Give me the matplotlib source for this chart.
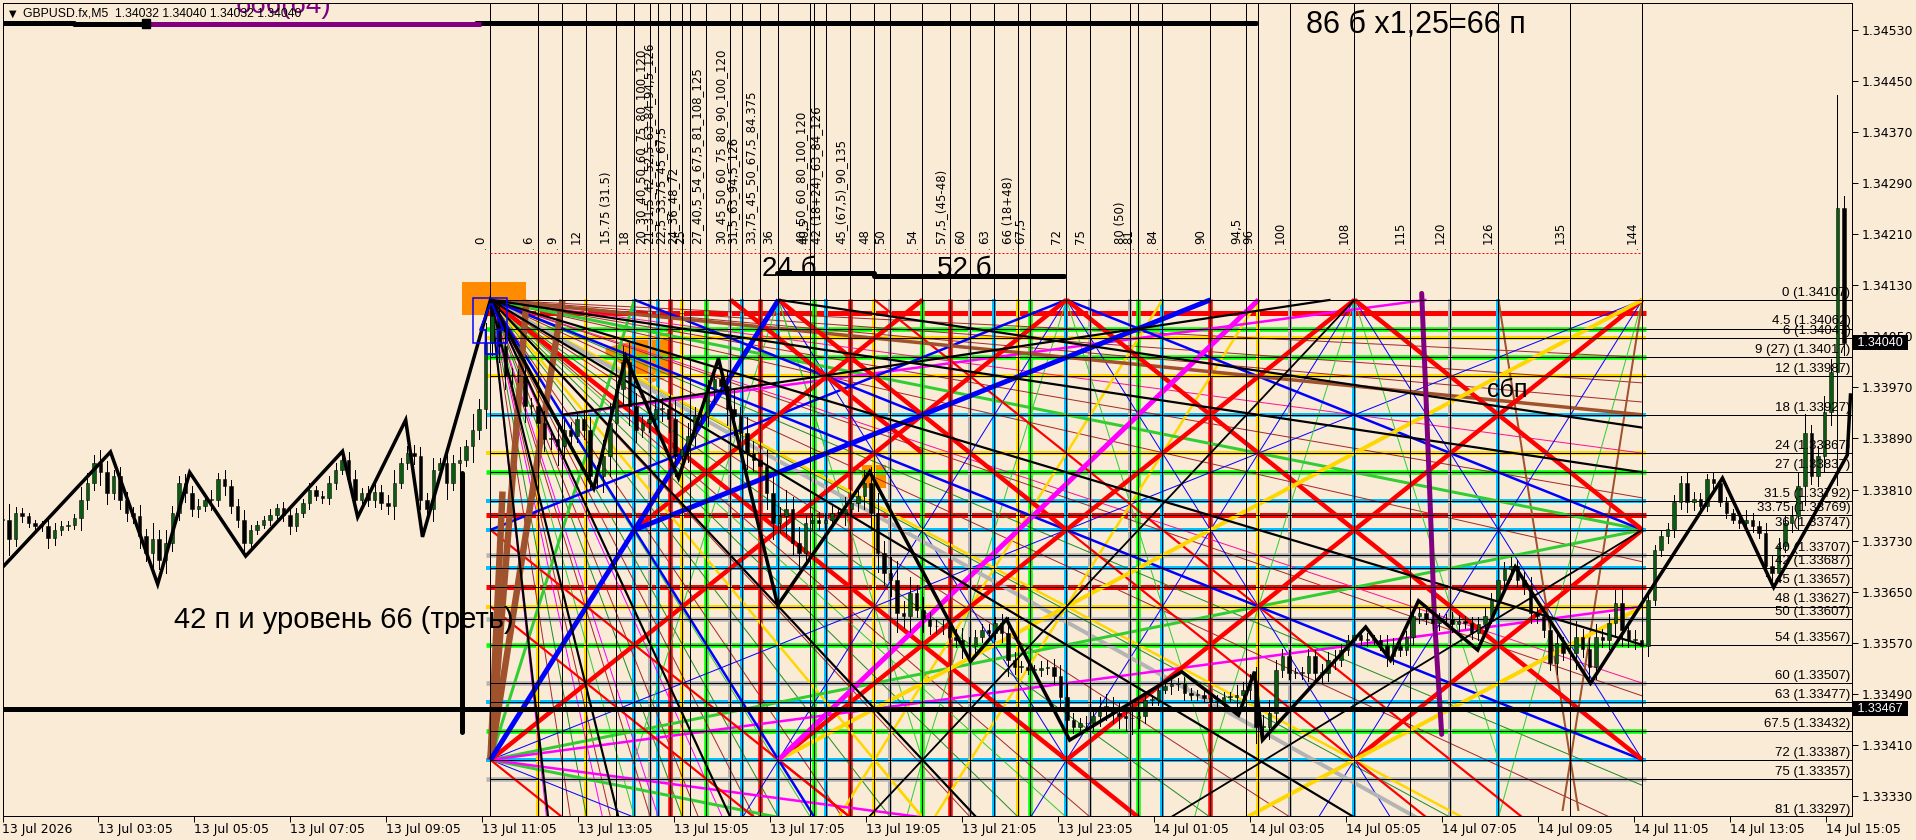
import matplotlib
matplotlib.use("Agg")
import matplotlib.pyplot as plt
from matplotlib.patches import Rectangle, Polygon

W, H = 1916, 840
BG = "#FAEBD7"
PT = 72 / 100.0  # points per pixel at dpi=100

# ---------- scales: x in Gann units, y in price points above 1.33000
TIME_LABELS = ["13 Jul 2026", "13 Jul 03:05", "13 Jul 05:05", "13 Jul 07:05", "13 Jul 09:05", "13 Jul 11:05",
               "13 Jul 13:05", "13 Jul 15:05", "13 Jul 17:05", "13 Jul 19:05", "13 Jul 21:05", "13 Jul 23:05",
               "14 Jul 01:05", "14 Jul 03:05", "14 Jul 05:05", "14 Jul 07:05", "14 Jul 09:05", "14 Jul 11:05",
               "14 Jul 13:05", "14 Jul 15:05"]
TIME_TICKS = [-61 + 12 * k for k in range(20)]
PRICE_TICKS = [1530, 1450, 1370, 1290, 1210, 1130, 1050, 970, 890, 810, 730, 650, 570, 490, 410, 330]

VERT_VALUES = [0, 6, 9, 12, 15.75, 18, 20, 21, 22.5, 24, 25, 27, 30, 31.5, 33.75, 36, 40, 40.5, 42, 45, 48, 50, 54,
               57.5, 60, 63, 66, 67.5, 72, 75, 80, 81, 84, 90, 94.5, 96, 100, 108, 115, 120, 126, 135, 144]
VERT_LABELS = ["0", "6", "9", "12", "15.75 (31.5)", "18", "20_30_40_50_60_75_80_100_120", "21_31,5_42_52,5_63_84_94,5_126",
               "22,5_33,75_45_67,5", "24_36_48_72", "25", "27_40,5_54_67,5_81_108_125", "30_45_50_60_75_80_90_100_120",
               "31,5_63_94,5_126", "33,75_45_50_67,5_84.375", "36", "40_50_60_80_100_120", "40,5", "42 (18+24)_63_84_126",
               "45_(67,5)_90_135", "48", "50", "54", "57,5_(45-48)", "60", "63", "66 (18+48)", "67,5", "72", "75",
               "80 (50)", "81", "84", "90", "94,5", "96", "100", "108", "115", "120", "126", "135", "144"]

LEVEL_NAMES = ["0", "4.5", "6", "9 (27)", "12", "18", "24", "27", "31.5", "33.75", "36", "40", "42", "45", "48", "50",
               "54", "60", "63", "67.5", "72", "75", "81"]
LEVEL_VALUES = [0, 4.5, 6, 9, 12, 18, 24, 27, 31.5, 33.75, 36, 40, 42, 45, 48, 50, 54, 60, 63, 67.5, 72, 75, 81]
LEVEL_PRICES = ["1.34107", "1.34062", "1.34047", "1.34017", "1.33987", "1.33927", "1.33867", "1.33837", "1.33792",
                "1.33769", "1.33747", "1.33707", "1.33687", "1.33657", "1.33627", "1.33607", "1.33567", "1.33507",
                "1.33477", "1.33432", "1.33387", "1.33357", "1.33297"]

# coloured grid
H_RED = [2, 33.75, 45]
H_LIME = [4.5, 9, 27, 54, 67.5]
H_GOLD = [6, 12, 24, 48]
H_SKY = [18, 31.5, 36, 42, 63, 72]
H_GRAY = [40, 50, 60, 75]
V_RED = [22.5, 33.75, 45, 57.5, 90]
V_LIME = [27, 40.5, 54, 67.5, 81]
V_GOLD = [6, 12, 24, 48, 66, 96]
V_SKY = [18, 21, 31.5, 36, 42, 63, 72, 84, 108, 126]
V_GRAY = [20, 30, 50, 60, 75, 80, 100, 120]

# diagonals as (u1, level1, u2, level2)
RED_THICK = [(0, 72, 72, 0), (36, 72, 108, 0), (72, 72, 144, 0), (108, 72, 144, 36), (18, 36, 54, 0),
             (0, 0, 90, 90), (36, 0, 72, 36), (72, 0, 144, 72), (108, 0, 144, 36), (30, 0, 54, 24)]
RED_MED = [(0, 36, 45, 81), (0, 48, 33, 81), (72, 36, 117, 81), (48, 0, 129, 81), (36, 72, 45, 81), (0, 72, 9, 81)]
BLUE_THICK = [(0, 72, 36, 0), (18, 36, 90, 0)]
BLUE_MED = [(0, 36, 72, 0), (18, 0, 54, 18), (0, 0, 144, 72), (72, 0, 144, 36), (0, 0, 40.5, 81)]
BLUE_THIN = [(72, 0, 36, 72), (72, 0, 112.5, 81), (108, 0, 72, 72), (108, 0, 144, 72), (144, 0, 108, 72),
             (36, 0, 72, 72), (0, 72, 144, 0), (0, 72, 18, 81), (72, 72, 67.5, 81), (108, 72, 103.5, 81), (36, 72, 31.5, 81)]
GOLD_THICK = [(36, 72, 144, 0), (72, 96, 144, 48)]
GOLD_MED = [(0, 0, 121.5, 81), (96, 0, 55.5, 81), (0, 0, 54, 81), (48, 72, 84, 0), (48, 72, 43.5, 81), (48, 72, 54, 81)]
MAGENTA_THICK = [(36, 72, 96, 0)]
MAGENTA_MED = [(0, 72, 144, 48), (0, 72, 54, 81), (9, 18, 117, 0)]
LIME_MED = [(0, 0, 144, 36), (0, 72, 144, 36), (0, 72, 36, 81), (0, 72, 18, 0)]
GRAY_THICK = [(0, 0, 120, 84)]
BLACK_MED = [(0, 0, 144, 27), (36, 0, 144, 20), (9, 18, 105, 0), (0, 0, 144, 54), (0, 0, 108, 81), (0, 0, 60.75, 81),
             (0, 0, 30, 81), (0, 0, 16, 81), (0, 0, 7.2, 81)]
BLACK_LIGHT = [(47.25, 81, 108, 0), (85, 81, 144, 36)]
BROWN_STEEP = [(0, 72, 4.5, 0), (0, 72, 9, 0), (0, 72, 1.5, 30)]
BROWN_SHALLOW = [(0, 0, 144, 18)]
BROWN_MED = [(126, 0, 136, 80), (144, 0, 134, 80)]
LIME_THIN = [(72, 0, 54, 72), (72, 0, 90, 72), (108, 0, 90, 72), (108, 0, 126, 72), (144, 0, 126, 81), (36, 0, 54, 72),
             (36, 0, 18, 72), (54, 72, 52, 81), (90, 72, 88, 81), (36, 0, 42, 24)]
PURPLE_PATH = [(116.4, -1), (116.9, 14), (117.4, 30), (118, 50), (118.9, 68)]

# thin fans from the top-left corner of the square: end point on level 81
FAN_DARKRED = [10, 15, 20, 26, 33, 44, 60, 75, 100, 140]
FAN_DARKGREEN = [12, 24, 36, 50, 66, 90, 120]
FAN_LIME = [18, 40, 72]
FAN_MAGENTA = [7, 14, 21, 29]
# end point on column 144
FAN2_DARKRED = [9, 13, 16, 31, 41, 62]
FAN2_PINK = [24, 60]
FAN2_DARKGREEN = [76, 36]

# candle closes, points above 1.33000, left to right
CLOSES = [
 763, 732, 773, 768, 758, 753, 753, 734, 747, 753, 755, 766, 794, 821, 852, 837, 805, 831, 794, 773, 768, 737, 711, 732,
 700, 726, 773, 821, 805, 779, 784, 794, 794, 826, 815, 784, 763, 726, 747, 755, 763, 771, 781, 771, 753, 773, 789, 810,
 800, 797, 821, 841, 857, 826, 794, 805, 794, 807, 789, 784, 821, 852, 868, 862, 794, 779, 841, 852, 821, 852, 857, 878,
 904, 936, 1040,
 1082, 1035, 988, 988, 988, 941, 941, 915, 889, 889, 878, 904, 894, 920, 904, 831, 831, 862, 915, 967, 1009, 941, 904,
 915, 920, 936, 936, 920, 862, 873, 894, 925, 925, 967, 983, 972, 936, 925, 899, 868, 857, 847, 805, 758, 768, 779, 727,
 711, 758, 763, 758, 763, 774, 774, 779, 789, 800, 821, 774, 711, 679,
 669, 617, 612, 648, 622, 607, 596, 596, 596, 580, 575, 565, 565, 580, 591, 586, 601, 586, 544, 533, 533, 528, 528, 531,
 533, 518, 486, 450, 439, 444, 444, 455, 470, 470, 460, 455, 452, 452, 455, 481, 481, 497, 502, 505, 507, 491, 489, 489,
 484, 478, 478, 486, 486, 489, 497, 507, 439, 439, 460,
 528, 549, 523, 523, 523, 549, 523, 523, 544, 544, 559, 575, 583, 575, 575, 575, 567, 549, 565, 559, 580, 612, 617, 607,
 601, 607, 607, 599, 604, 601, 586, 599, 612, 638, 669, 685,
 690, 669, 659, 617, 612, 591, 539, 570, 554, 554, 580, 560, 533, 580, 575, 601, 633, 591, 575, 575, 565, 638, 716, 737,
 748, 790, 821, 790, 795, 784, 826, 821, 790, 774, 763, 758, 763, 753, 742, 690, 679, 722, 758, 769, 816, 899, 831, 863,
 931, 994, 1250, 1040]
WICKS = [
 35, 25, 10, 8, 6, 5, 8, 15, 10, 8, 6, 6, 20, 15, 12, 20, 18, 10, 15, 12, 10, 18, 12, 25,
 15, 20, 12, 10, 14, 10, 12, 8, 16, 10, 14, 10, 12, 15, 8, 6, 5, 8, 6, 10, 12, 8, 6, 10,
 6, 8, 10, 10, 6, 12, 14, 8, 10, 12, 10, 12, 20, 8, 10, 12, 14, 10, 18, 8, 25, 12, 20, 10,
 25, 15, 30,
 20, 25, 20, 12, 10, 25, 12, 15, 18, 15, 30, 15, 12, 10, 15, 20, 18, 25, 30, 20, 25, 30, 20,
 12, 15, 12, 18, 20, 30, 15, 20, 15, 10, 15, 20, 10, 25, 30, 15, 25, 18, 12, 25, 25, 15, 30, 20,
 25, 12, 10, 12, 10, 10, 8, 20, 8, 12, 20, 25, 30, 18,
 25, 30, 18, 25, 12, 20, 12, 10, 12, 8, 12, 18, 15, 10, 8, 8, 10, 15, 25, 12, 8, 6, 8, 10,
 10, 12, 18, 20, 10, 8, 12, 12, 15, 20, 15, 18, 20, 25, 15, 10, 8, 8, 6, 12, 8, 10, 8, 8,
 6, 8, 10, 8, 8, 15, 12, 15, 25, 18, 20,
 15, 12, 10, 8, 10, 12, 10, 14, 12, 15, 10, 8, 10, 8, 10, 8, 8, 15, 12, 10, 8, 12, 10, 8,
 10, 10, 8, 12, 10, 8, 10, 12, 15, 10, 15, 12,
 15, 10, 12, 15, 10, 12, 12, 18, 10, 15, 25, 12, 18, 20, 12, 15, 20, 25, 12, 15, 10, 15, 8, 10,
 10, 12, 10, 15, 12, 10, 8, 12, 6, 8, 6, 8, 15, 10, 8, 15, 18, 12, 10, 15, 20, 30, 12, 15,
 25, 20, 177, 20]

# zigzag through swing points: (u, price points)
ZIGZAG_U = [-61.1, -47.5, -41.6, -37.6, -30.6, -18.5, -16.6, -10.6, -8.5, -4.3, 0, 12.9, 16.9, 23.5, 28.5, 35.9, 47.4, 60,
            64.5, 72.4, 86.4, 93.5, 95.5, 96.5, 109.4, 112.5, 116, 123.4, 128.1, 137.5, 154, 160.4, 169.6, 170]
ZIGZAG_P = [687, 869, 662, 837, 706, 870, 767, 919, 736, 919, 1107, 812, 1018, 828, 1015, 629, 838, 541,
            607, 418, 525, 457, 525, 418, 595, 543, 636, 559, 689, 507, 828, 657, 864, 958]

# fixed decorations
MAIN_LEVEL = 467
LAST_PRICE = 1040
RED_DOTTED = 1181
TOP_BAR_BLACK = [(-61.2, 1540, -52, 1540), (-52, 1538, -42.7, 1538), (-1.8, 1540, 95.7, 1540)]
TOP_BAR_PURPLE = [(-42.7, 1538, -1.2, 1538)]
BAR_24 = [(35.8, 1149, 47.9, 1149), (47.9, 1145, 71.7, 1145)]
STICK = (-3.5, 836, 431)
ORANGE_RECTS = [(-3.56, 1083, 7.96, 52), (46.4, 813, 3, 36)]
BLUE_RECT = (-2.2, 1040, 4.3, 70)
ORANGE_WEDGE = [(14.4, 7.5), (22.5, 5), (22.5, 12), (20, 13), (14.4, 8.5)]
BLUE_ARROW_U = [-0.05, -1.3, -0.6, -0.6, 0.9, 0.9, 1.6, 0.2]
BLUE_ARROW_P = [1100, 1060, 1060, 1022, 1022, 1060, 1060, 1100]

ANNOTATIONS = [(33.9, 1145, "24 б", 20, "black"), (55.8, 1145, "52 б", 20, "black"),
               (102, 1524, "86 б х1,25=66 п", 22, "black"), (-39.5, 593, "42 п и уровень 66 (треть)", 21, "black"),
               (124.6, 955, "сбп", 18, "black"), (-31.8, 1556, "666(64)", 20, "purple")]

RED, LIME, GOLD, SKY, GRAY = "#FF0000", "#00FF00", "#FFD700", "#00BFFF", "#B4B4B4"


def lev(level):
    return 1107 - 10.0 * level


fig = plt.figure(figsize=(W / 100, H / 100), dpi=100, facecolor=BG)
ax = fig.add_axes([2.5 / W, 1 - 816 / H, (1852 - 2.5) / W, (816 - 3) / H], facecolor=BG)
ax.set_xlim(-61.0, 170.19)
ax.set_ylim(299.2, 1571.5)
plt.rcParams["font.family"] = ["Liberation Sans", "DejaVu Sans"]

U_END = 144


def segs(items, color, px, z):
    for u1, l1, u2, l2 in items:
        ax.plot([u1, u2], [lev(l1), lev(l2)], color=color, lw=px * PT, zorder=z, solid_capstyle="butt")


# orange blocks
for x0, y0, w, h in ORANGE_RECTS:
    ax.add_patch(Rectangle((x0, y0), w, h, color="#FF8C00", lw=0, zorder=1))
ax.add_patch(Polygon([(u, lev(l)) for u, l in ORANGE_WEDGE], color="#FF8C00", lw=0, zorder=1))

# coloured grid
for vals, col, px in [(H_RED, RED, 5), (H_LIME, LIME, 4.5), (H_GOLD, GOLD, 4), (H_SKY, SKY, 4), (H_GRAY, GRAY, 4.5)]:
    for v in vals:
        ax.plot([-0.5, U_END + 0.5], [lev(v), lev(v)], color=col, lw=px * PT, zorder=2, solid_capstyle="butt")
for vals, col, px in [(V_RED, RED, 4.5), (V_LIME, LIME, 4.5), (V_GOLD, GOLD, 4), (V_SKY, SKY, 4), (V_GRAY, GRAY, 4)]:
    for v in vals:
        ax.plot([v, v], [lev(0) + 2, ax.get_ylim()[0]], color=col, lw=px * PT, zorder=2, solid_capstyle="butt")

# thin fans
for vals, col in [(FAN_DARKRED, "#A52A2A"), (FAN_DARKGREEN, "#228B22"), (FAN_LIME, "#32CD32"), (FAN_MAGENTA, "#FF00FF")]:
    for t in vals:
        ax.plot([0, t], [lev(0), lev(81)], color=col, lw=1 * PT, zorder=3)
for vals, col in [(FAN2_DARKRED, "#A52A2A"), (FAN2_PINK, "#FF1493"), (FAN2_DARKGREEN, "#228B22")]:
    for t in vals:
        ax.plot([0, U_END], [lev(0), lev(t)], color=col, lw=1 * PT, zorder=3)

segs(BLUE_THIN, "#0000FF", 1, 3)
segs(LIME_THIN, "#32CD32", 1, 3)
segs(BROWN_MED, "#A0522D", 2, 3.5)
segs(GOLD_MED, GOLD, 2.5, 4)
segs(GRAY_THICK, "#B4B4B4", 4, 4)
segs(LIME_MED, "#32CD32", 3, 4.2)
segs(MAGENTA_MED, "#FF00FF", 2.5, 4.2)
segs(RED_MED, RED, 2.2, 4.3)
segs(BLUE_MED, "#0000FF", 2.5, 4.4)
segs(BROWN_SHALLOW, "#A0522D", 3.5, 4.5)
segs(RED_THICK, RED, 4.5, 4.6)
segs(GOLD_THICK, GOLD, 4, 4.7)
segs(BROWN_STEEP, "#A0522D", 6.5, 4.75)
segs(BLUE_THICK, "#0000FF", 5, 4.8)
segs(MAGENTA_THICK, "#FF00FF", 5, 4.8)
segs(BLACK_LIGHT, "black", 1.8, 4.9)
segs(BLACK_MED, "black", 2.2, 4.9)
ax.plot([p[0] for p in PURPLE_PATH], [lev(p[1]) for p in PURPLE_PATH], color="#800080", lw=5 * PT, zorder=4.9,
        solid_capstyle="round")

# thin black grid
for v in VERT_VALUES:
    ax.axvline(v, color="black", lw=1 * PT, zorder=5)
for v in LEVEL_VALUES:
    ax.plot([0, 170.19], [lev(v), lev(v)], color="black", lw=1 * PT, zorder=5)

# candles
STEP_U = 6.53 / 8
BODY_U = 3.5 / 8
X0 = -61
prev = CLOSES[0]
for i, (c, w) in enumerate(zip(CLOSES, WICKS)):
    u = X0 + i * STEP_U
    lo, hi = min(prev, c), max(prev, c)
    ax.plot([u, u], [lo - w, hi + w], color="black", lw=1 * PT, zorder=6)
    ax.add_patch(Rectangle((u - BODY_U / 2, lo), BODY_U, max(hi - lo, 1), facecolor="#0B5A12" if c >= prev else "black",
                           edgecolor="black", lw=0.5 * PT, zorder=6.1))
    prev = c

# zigzag
ax.plot(ZIGZAG_U, ZIGZAG_P, color="black", lw=3.5 * PT, zorder=7, solid_joinstyle="miter")

# blue box and arrow at the apex
bx, by, bw, bh = BLUE_RECT
ax.add_patch(Rectangle((bx, by), bw, bh, fill=False, edgecolor="#0000FF", lw=1.5 * PT, zorder=7.5))
ax.plot(BLUE_ARROW_U, BLUE_ARROW_P, color="#0000FF", lw=2 * PT, zorder=7.5)

# main level, stick, bars
ax.axhline(MAIN_LEVEL, color="black", lw=5 * PT, zorder=8)
ax.plot([STICK[0], STICK[0]], [STICK[2], STICK[1]], color="black", lw=5 * PT, zorder=8, solid_capstyle="round")
for u1, p1, u2, p2 in TOP_BAR_BLACK + BAR_24:
    ax.plot([u1, u2], [p1, p2], color="black", lw=5 * PT, zorder=8, solid_capstyle="round")
for u1, p1, u2, p2 in TOP_BAR_PURPLE:
    ax.plot([u1, u2], [p1, p2], color="#800080", lw=5 * PT, zorder=8, solid_capstyle="butt")
ax.add_patch(Rectangle((-43.6, 1533), 1.1, 14, color="black", zorder=8))
ax.plot([0, U_END], [RED_DOTTED, RED_DOTTED], color=RED, lw=1 * PT, ls=(0, (2, 2)), zorder=6)

# vertical labels
for v, s in zip(VERT_VALUES, VERT_LABELS):
    ax.text(v - 1.25, RED_DOTTED + 14, s, rotation=90, ha="center", va="bottom", fontsize=8.5,
            family="DejaVu Sans", color="black", zorder=9)
    ax.text(v - 0.7, RED_DOTTED + 1, ".", ha="center", va="bottom", fontsize=7, color="black", zorder=9)

# level labels
for v, n, p in zip(LEVEL_VALUES, LEVEL_NAMES, LEVEL_PRICES):
    ax.text(170.0, lev(v) + 2, f"{n} ({p})", ha="right", va="bottom", fontsize=9.5, color="black", zorder=9, clip_on=True)

# annotations
for u, p, s, fs, col in ANNOTATIONS:
    ax.text(u, p, s, ha="left", va="baseline", fontsize=fs, color=col, zorder=9.5, clip_on=True)

# header
ax.text(0.0035, 0.9865, "▼", transform=ax.transAxes, fontsize=7, va="center", family="DejaVu Sans", zorder=10)
ax.text(0.0110, 0.9865, "GBPUSD.fx,M5  1.34032 1.34040 1.34032 1.34040", transform=ax.transAxes, fontsize=8.8, va="center",
        color="black", zorder=10)

# axes
for s in ax.spines.values():
    s.set_color("black")
    s.set_linewidth(1 * PT)
    s.set_zorder(12)
ax.yaxis.tick_right()
ax.set_yticks(PRICE_TICKS)
ax.set_yticklabels([f"{1.33 + p / 100000:.5f}" for p in PRICE_TICKS], fontsize=9)
ax.set_xticks(TIME_TICKS)
ax.set_xticklabels(TIME_LABELS, fontsize=9, ha="left")
ax.tick_params(axis="y", length=4, width=0.7, pad=3, colors="black")
ax.tick_params(axis="x", length=4, width=0.7, pad=1, colors="black")
for tick in ax.get_xticklabels():
    tick.set_clip_on(False)

# price tags
for p, s in [(LAST_PRICE, "1.34040"), (MAIN_LEVEL, "1.33467")]:
    ax.text(1.0011, p, " " + s + " ", transform=ax.get_yaxis_transform(), fontsize=9, color="white", ha="left", va="center",
            bbox=dict(boxstyle="square,pad=0.12", fc="black", ec="black", lw=0), zorder=20, clip_on=False)

fig.savefig("out.png", dpi=100, facecolor=BG)
